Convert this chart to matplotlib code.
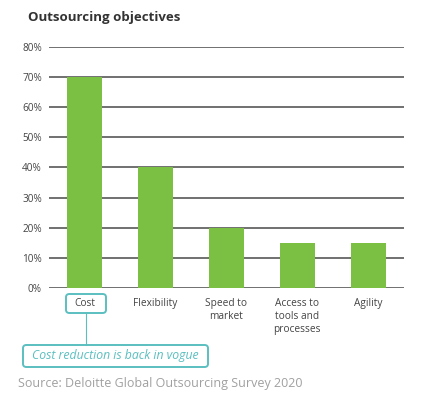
import matplotlib as mpl
mpl.use('Agg')
import matplotlib.pyplot as plt
from matplotlib.patches import FancyBboxPatch

plt.rcParams['font.family'] = ['Open Sans', 'DejaVu Sans']

categories = ['Cost', 'Flexibility', 'Speed to\nmarket', 'Access to\ntools and\nprocesses', 'Agility']
values = [70, 40, 20, 15, 15]
yticks = [0, 10, 20, 30, 40, 50, 60, 70, 80]

green = '#7bc043'
teal = '#5bbfc0'
grid = '#707070'

fig = plt.figure(figsize=(4.37, 3.98), dpi=100)
ax = fig.add_axes([0.112, 0.2764, 0.812, 0.6056])

x = list(range(len(categories)))
ax.bar(x, values, width=0.49, color=green, zorder=3)
for y in yticks:
    ax.axhline(y, color=grid, lw=1.4, zorder=1)

ax.set_xlim(-0.5, len(categories) - 0.5)
ax.set_ylim(0, 80)
ax.set_yticks(yticks)
ax.set_yticklabels([f'{v}%' for v in yticks], fontsize=7.2, color='#444444')
ax.tick_params(axis='y', length=0, pad=5)
ax.set_xticks([])
for s in ax.spines.values():
    s.set_visible(False)

for i, c in enumerate(categories):
    ax.text(i, -3.2, c, ha='center', va='top', fontsize=7.3, color='#444444',
            linespacing=1.25)

# highlight box around "Cost"
fig.patches.append(FancyBboxPatch((66 / 437, 1 - 313 / 398), 40 / 437, 19 / 398,
                                  boxstyle='round,pad=0,rounding_size=0.008',
                                  transform=fig.transFigure, fill=False,
                                  ec=teal, lw=1.4))
fig.add_artist(plt.Line2D([86 / 437, 86 / 437], [1 - 313 / 398, 1 - 345 / 398],
                          transform=fig.transFigure, color=teal, lw=0.8))
fig.patches.append(FancyBboxPatch((23 / 437, 1 - 367 / 398), 185 / 437, 22 / 398,
                                  boxstyle='round,pad=0,rounding_size=0.008',
                                  transform=fig.transFigure, fill=False,
                                  ec=teal, lw=1.4))
fig.text(115 / 437, 1 - 356 / 398, 'Cost reduction is back in vogue', ha='center',
         va='center', fontsize=8.8, style='italic', color=teal)

fig.text(28 / 437, 1 - 17 / 398, 'Outsourcing objectives', fontsize=9.5,
         fontweight='bold', color='#333333', va='center')
fig.text(18 / 437, 1 - 384 / 398, 'Source: Deloitte Global Outsourcing Survey 2020',
         fontsize=9, color='#a0a0a0', va='center')

fig.savefig('out.png', dpi=100)
